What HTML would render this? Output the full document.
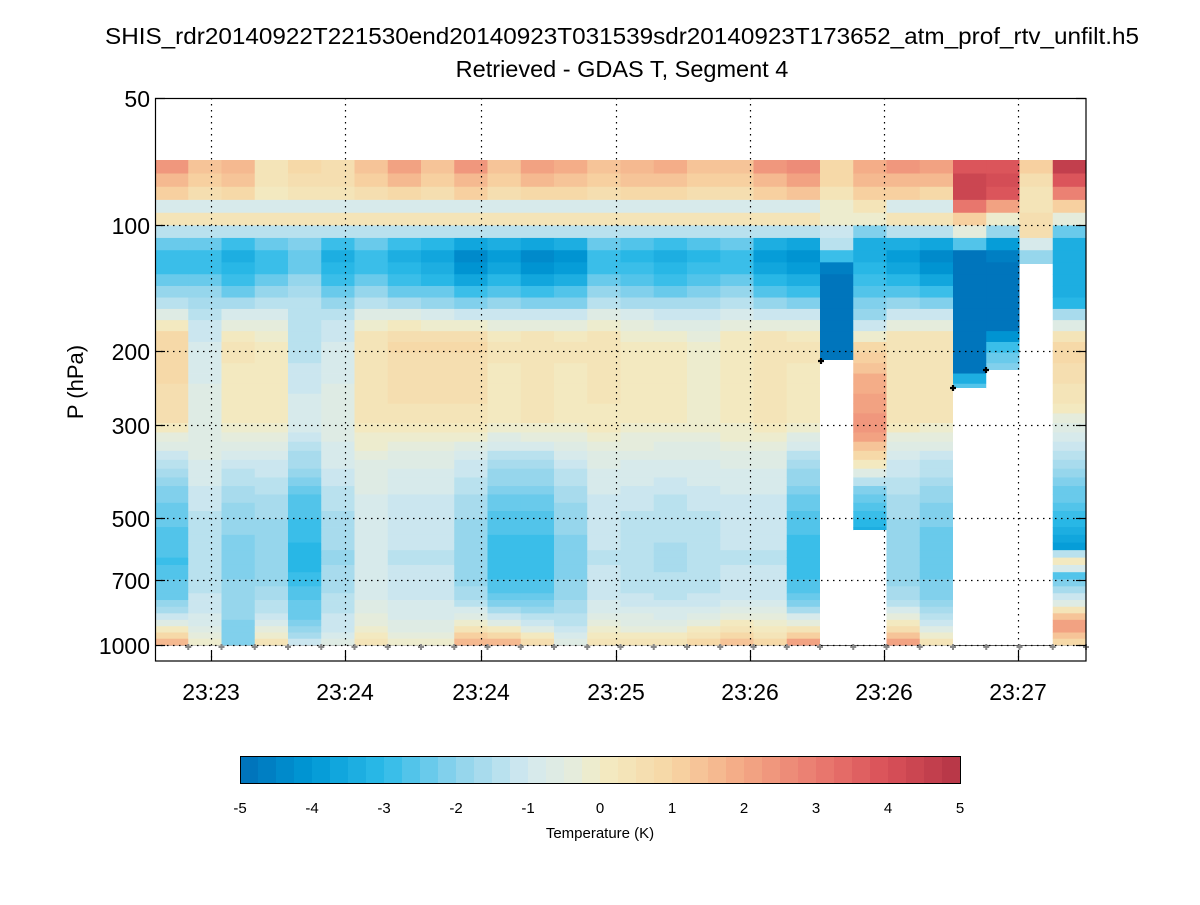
<!DOCTYPE html>
<html><head><meta charset="utf-8"><style>
html,body{margin:0;padding:0;background:#fff;}
svg text{font-family:"Liberation Sans",sans-serif;}
</style></head><body>
<svg id="s" width="1200" height="900" xmlns="http://www.w3.org/2000/svg">
<rect width="1200" height="900" fill="#fff"/>
<text x="622" y="44" font-size="23.5" text-anchor="middle" textLength="1034" lengthAdjust="spacingAndGlyphs">SHIS_rdr20140922T221530end20140923T031539sdr20140923T173652_atm_prof_rtv_unfilt.h5</text>
<text x="622" y="77" font-size="23.5" text-anchor="middle">Retrieved - GDAS T, Segment 4</text>
<g id="solid" stroke="#000" stroke-width="1.2">
<line x1="155" x2="1086" y1="225" y2="225"/><line x1="155" x2="1086" y1="351" y2="351"/>
<line x1="155" x2="1086" y1="425" y2="425"/><line x1="155" x2="1086" y1="518" y2="518"/>
<line x1="155" x2="1086" y1="580" y2="580"/><line x1="155" x2="1086" y1="645" y2="645"/>
</g>
<g id="cells"></g>
<g stroke="#000" stroke-width="1.2" stroke-dasharray="1.5,4.5">
<line x1="155" x2="1086" y1="225.5" y2="225.5"/><line x1="155" x2="1086" y1="351.5" y2="351.5"/>
<line x1="155" x2="1086" y1="425.5" y2="425.5"/><line x1="155" x2="1086" y1="518.5" y2="518.5"/>
<line x1="155" x2="1086" y1="580.5" y2="580.5"/><line x1="155" x2="1086" y1="645.5" y2="645.5"/>
<line y1="98" y2="661" x1="211.5" x2="211.5"/><line y1="98" y2="661" x1="345.5" x2="345.5"/>
<line y1="98" y2="661" x1="481.5" x2="481.5"/><line y1="98" y2="661" x1="616.5" x2="616.5"/>
<line y1="98" y2="661" x1="750.5" x2="750.5"/><line y1="98" y2="661" x1="884.5" x2="884.5"/>
<line y1="98" y2="661" x1="1018.5" x2="1018.5"/>
</g>
<g id="marks"></g>
<rect x="155.5" y="98.5" width="930.5" height="562.5" fill="none" stroke="#000" stroke-width="1.2"/>
<g stroke="#000" stroke-width="1.2">
<line x1="155" x2="165" y1="98.5" y2="98.5"/><line x1="1076" x2="1086" y1="98.5" y2="98.5"/>
<line x1="155" x2="165" y1="225.5" y2="225.5"/><line x1="1076" x2="1086" y1="225.5" y2="225.5"/>
<line x1="155" x2="165" y1="351.5" y2="351.5"/><line x1="1076" x2="1086" y1="351.5" y2="351.5"/>
<line x1="155" x2="165" y1="425.5" y2="425.5"/><line x1="1076" x2="1086" y1="425.5" y2="425.5"/>
<line x1="155" x2="165" y1="518.5" y2="518.5"/><line x1="1076" x2="1086" y1="518.5" y2="518.5"/>
<line x1="155" x2="165" y1="580.5" y2="580.5"/><line x1="1076" x2="1086" y1="580.5" y2="580.5"/>
<line x1="155" x2="165" y1="645.5" y2="645.5"/><line x1="1076" x2="1086" y1="645.5" y2="645.5"/>
<line y1="651" y2="661" x1="211.5" x2="211.5"/><line y1="651" y2="661" x1="345.5" x2="345.5"/>
<line y1="651" y2="661" x1="481.5" x2="481.5"/><line y1="651" y2="661" x1="616.5" x2="616.5"/>
<line y1="651" y2="661" x1="750.5" x2="750.5"/><line y1="651" y2="661" x1="884.5" x2="884.5"/>
<line y1="651" y2="661" x1="1018.5" x2="1018.5"/>
</g>
<g font-size="23" text-anchor="end">
<text x="150" y="107">50</text><text x="150" y="234">100</text><text x="150" y="360">200</text>
<text x="150" y="434">300</text><text x="150" y="527">500</text><text x="150" y="589">700</text>
<text x="150" y="654">1000</text>
</g>
<g font-size="23" text-anchor="middle">
<text x="211" y="700">23:23</text><text x="345" y="700">23:24</text><text x="481" y="700">23:24</text>
<text x="616" y="700">23:25</text><text x="750" y="700">23:26</text><text x="884" y="700">23:26</text>
<text x="1018" y="700">23:27</text>
</g>
<text transform="translate(83,382) rotate(-90)" font-size="22" text-anchor="middle">P (hPa)</text>
<g id="cbar"></g>
<rect x="240.5" y="756.5" width="720" height="27" fill="none" stroke="#000" stroke-width="1"/>
<g font-size="15" text-anchor="middle">
<text x="240" y="813">-5</text><text x="312" y="813">-4</text><text x="384" y="813">-3</text>
<text x="456" y="813">-2</text><text x="528" y="813">-1</text><text x="600" y="813">0</text>
<text x="672" y="813">1</text><text x="744" y="813">2</text><text x="816" y="813">3</text>
<text x="888" y="813">4</text><text x="960" y="813">5</text>
<text x="600" y="838">Temperature (K)</text>
</g>
</svg>
<script>
var A=[[-5,[0,112,184]],[-4,[0,153,214]],[-3,[46,187,232]],[-2,[141,211,236]],[-1,[212,233,239]],[-0.25,[232,236,216]],[0,[242,236,196]],[1,[247,214,164]],[2,[243,167,132]],[3,[234,123,112]],[4,[217,80,88]],[5,[180,52,70]]];
function col(v){v=Math.max(-4.99,Math.min(4.99,v));v=(Math.floor(v*4)+0.5)/4;
for(var i=0;i<A.length-1;i++){if(v<=A[i+1][0]){var t=(v-A[i][0])/(A[i+1][0]-A[i][0]);var a=A[i][1],b=A[i+1][1];
return "rgb("+Math.round(a[0]+(b[0]-a[0])*t)+","+Math.round(a[1]+(b[1]-a[1])*t)+","+Math.round(a[2]+(b[2]-a[2])*t)+")";}}return "rgb(180,52,70)";}
function interp(kp,y){if(y<=kp[0][0])return kp[0][1];for(var i=0;i<kp.length-1;i++){if(y<=kp[i+1][0]){var t=(y-kp[i][0])/(kp[i+1][0]-kp[i][0]);return kp[i][1]+(kp[i+1][1]-kp[i][1])*t;}}return kp[kp.length-1][1];}
function prof(t,b,m,l,s){return [[160,t],[175,t*0.8],[195,t*0.4],[203,-1],[212,-1],[217,0.4],[225,0.4],[232,-1.5],[242,b*0.8],[260,b],[280,b*0.8],[300,b*0.55],[320,b*0.2+m*0.5],[340,m],[420,m*0.5],[460,l*0.5],[500,l*0.8],[560,l],[600,l*0.8],[625,(l+s)/2],[645,s]];}
var P=[[2.5,-3,1,-2.8,2],[1.5,-3,-1,-1.5,0],[1.8,-3.5,0.3,-2.2,-2],[0.5,-3,0,-2,0.5],[1,-2.5,-1.5,-3.2,-1],[0.8,-3.5,-1,-1.8,-0.5],[1.5,-3,0.5,-1,0.5],[2.2,-3.5,0.8,-1.3,0],[1.5,-3.8,0.8,-1.3,0],[2.5,-4.5,0.8,-2,2],[1.5,-4,0.3,-3,2],[2.3,-4.5,0.5,-3,1],[2,-4.2,0.3,-2.2,-0.5],[1.5,-3,0.4,-1.3,0.5],[1.8,-3.2,0,-1.5,0.5],[2,-3.5,0,-1.6,0.5],[1.5,-3.2,-0.2,-1.5,1],[1.5,-3,0.2,-1.3,1.5],[2.5,-4,0.5,-1.3,1],[3,-4.3,0.3,-3,2.5]];
var K=[];for(var i=0;i<20;i++)K.push(prof.apply(null,P[i]));
K[20]=[[160,0.8],[189,0.8],[202,-0.5],[215,0.3],[228,-1],[250,-1.5],[264,-4.5],[280,-5],[360,-5]];
K[21]=[[160,2],[189,1.5],[202,0.3],[215,0.6],[228,-1.5],[240,-3.5],[280,-3],[310,-2],[330,-1],[345,0.8],[380,1.8],[430,2.5],[460,0.5],[490,-2],[530,-3.5]];
K[22]=prof(2.5,-4,0.5,-2,2.5);K[23]=prof(2.3,-4.5,0.5,-2.5,0.5);
K[24]=[[160,3.5],[175,4.2],[200,4.5],[215,1.5],[228,0.3],[240,-1.5],[252,-5],[370,-5],[380,-3],[388,-2.5]];
K[25]=[[160,3.8],[189,4.2],[202,3],[215,0.2],[228,-1],[240,-3.5],[260,-5],[330,-5],[345,-3],[370,-2]];
K[26]=[[160,1.5],[175,0.8],[189,0.3],[215,0.3],[228,1],[240,-0.5],[258,-2],[264,-2]];
K[27]=[[160,5],[175,4],[189,3.5],[202,1.5],[215,0.5],[228,-2],[240,-3.5],[300,-3.5],[320,-1],[345,1],[400,0.3],[440,-1],[500,-2.5],[550,-4],[556,0],[568,0],[570,-3],[600,-1],[625,2.5],[645,0.5]];
var mask=[];for(i=0;i<28;i++)mask.push(645);mask[20]=360;mask[21]=530;mask[24]=388;mask[25]=370;mask[26]=264;
var rows=[],y=160;while(y<645){var h=13.5-7.5*(y-160)/485;var y2=Math.min(645,y+h);rows.push([y,y2]);y=y2;}
var g=document.getElementById("cells"),html="";
for(var c=0;c<28;c++){var x0=155+c*33.25,w=33.25;
for(var r=0;r<rows.length;r++){var a=rows[r][0],b=rows[r][1];if(a>=mask[c])break;b=Math.min(b,mask[c]);
html+='<rect x="'+x0.toFixed(2)+'" y="'+a.toFixed(2)+'" width="'+(w+0.4).toFixed(2)+'" height="'+(b-a+0.4).toFixed(2)+'" fill="'+col(interp(K[c],(a+b)/2))+'"/>';}
if(mask[c]<645)html+='<rect x="'+x0.toFixed(2)+'" y="'+mask[c]+'" width="'+w+'" height="'+(645-mask[c])+'" fill="#fff"/>';}
g.innerHTML=html;
var m="";for(var k=1;k<=28;k++){var x=155+33.25*k;m+='<path d="M'+(x-3)+' 647h6M'+x+' 644v6" stroke="#888" stroke-width="2"/>';}
[[821,361],[953,388],[986,370]].forEach(function(p){m+='<path d="M'+(p[0]-3)+' '+p[1]+'h6M'+p[0]+' '+(p[1]-3)+'v6" stroke="#000" stroke-width="2.2"/>';});
document.getElementById("marks").innerHTML=m;
var cb="";for(var i=0;i<40;i++){cb+='<rect x="'+(240+i*18)+'" y="756" width="18.5" height="28" fill="'+col(-5+i*0.25+0.01)+'"/>';}
document.getElementById("cbar").innerHTML=cb;
</script>
</body></html>
